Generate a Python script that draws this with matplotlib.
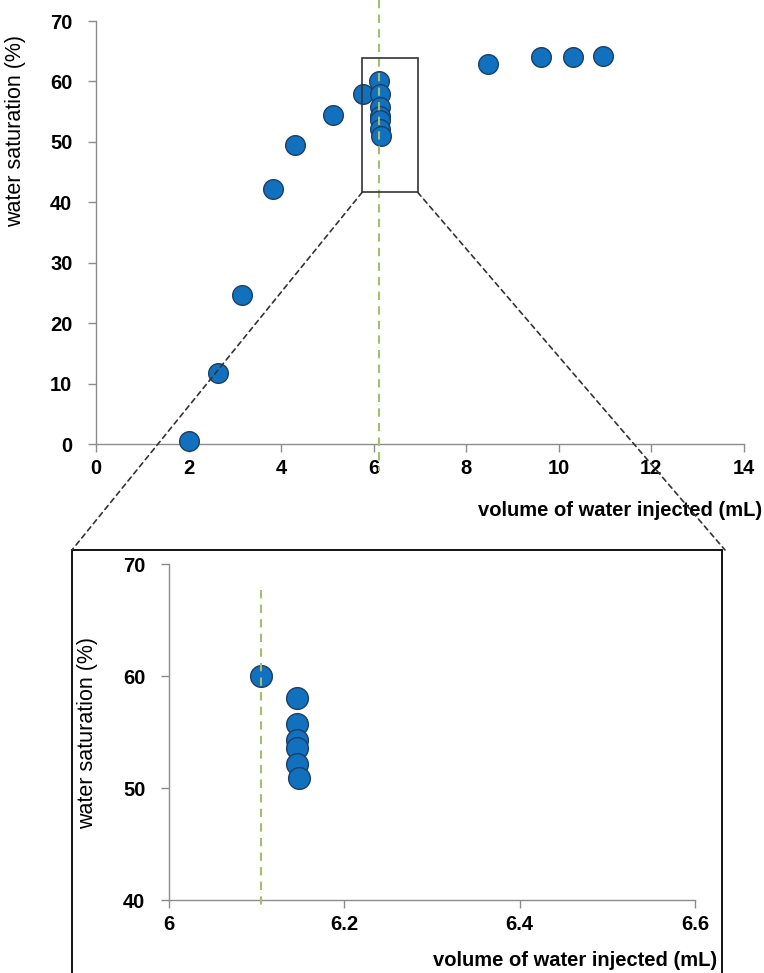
import numpy as np
import matplotlib
matplotlib.use("Agg")
import matplotlib.pyplot as plt
from matplotlib.patches import Rectangle, ConnectionPatch

plt.rcParams["font.family"] = ["Liberation Sans", "DejaVu Sans"]

''' Data '''
vol_early = [2.0, 2.63, 3.15, 3.82, 4.30, 5.12, 5.77]
sat_early = [0.5, 11.8, 24.7, 42.2, 49.4, 54.5, 57.9]

vol_cluster = [6.105, 6.146, 6.146, 6.146, 6.146, 6.146, 6.148]
sat_cluster = [60.0, 58.0, 55.7, 54.3, 53.6, 52.1, 50.9]

vol_late = [8.47, 9.62, 10.31, 10.96]
sat_late = [62.9, 64.0, 64.0, 64.2]

breakthrough = 6.105

main_xticks = [0, 2, 4, 6, 8, 10, 12, 14]
main_yticks = [0, 10, 20, 30, 40, 50, 60, 70]
zoom_xticks = [6, 6.2, 6.4, 6.6]
zoom_yticks = [40, 50, 60, 70]

zoom_box = (5.75, 41.65, 6.95, 63.9)  # hand-drawn box around the cluster

x_label = "volume of water injected (mL)"
y_label = "water saturation (%)"

''' Style '''
W, H = 764, 973
point_color = "#1271BE"
edge_color = "#1B3F66"
axis_color = "#8C8C8C"
green = "#A3BE6E"

fig = plt.figure(figsize=(W / 100, H / 100), dpi=100)


def px_axes(left, right, top, bottom):
    return fig.add_axes([left / W, 1 - bottom / H, (right - left) / W, (bottom - top) / H])


def style_axes(ax, xticks, yticks, labelsize):
    ax.spines["top"].set_visible(False)
    ax.spines["right"].set_visible(False)
    for s in ("left", "bottom"):
        ax.spines[s].set_color(axis_color)
        ax.spines[s].set_linewidth(1.0)
    ax.set_xticks(xticks)
    ax.set_yticks(yticks)
    ax.set_xticklabels([f"{t:g}" for t in xticks], fontweight="bold", fontsize=labelsize)
    ax.set_yticklabels([f"{t:g}" for t in yticks], fontweight="bold", fontsize=labelsize)
    ax.tick_params(axis="both", direction="out", length=6, width=1.0, color=axis_color)
    ax.tick_params(axis="x", pad=5)
    ax.tick_params(axis="y", pad=11)
    ax.patch.set_alpha(0)


''' Main plot '''
ax = px_axes(96, 744, 21, 444)
all_vol = vol_early + vol_cluster + vol_late
all_sat = sat_early + sat_cluster + sat_late
ax.scatter(all_vol, all_sat, s=200, color=point_color, edgecolor=edge_color, linewidth=1.0, zorder=3, clip_on=False)
ax.plot([breakthrough + 0.005, breakthrough + 0.005], [73.5, -4.5], ls=(0, (4, 3)), color=green, lw=1.5,
        zorder=4, clip_on=False)
ax.set_xlim(0, 14)
ax.set_ylim(0, 70)
style_axes(ax, main_xticks, main_yticks, 14.5)
ax.set_ylabel(y_label, fontsize=15.5)
ax.yaxis.set_label_coords(-0.108, 0.74)

bx0, by0, bx1, by1 = zoom_box
ax.add_patch(Rectangle((bx0, by0), bx1 - bx0, by1 - by0, fill=False, ec="#333333", lw=1.2, zorder=5,
                       clip_on=False))

fig.text(762 / W, 1 - 511 / H, x_label, ha="right", va="center", fontsize=14.5, fontweight="bold")

''' Inset frame and connectors '''
frame_l, frame_r, frame_t = 72, 722, 550
fig.add_artist(Rectangle((frame_l / W, -0.02), (frame_r - frame_l) / W, 1 - frame_t / H + 0.02,
                         transform=fig.transFigure, fill=False, ec="black", lw=1.3))
for bx, fx in ((bx0, frame_l), (bx1, frame_r + 3)):
    con = ConnectionPatch(xyA=(bx, by0), coordsA=ax.transData, xyB=(fx / W, 1 - frame_t / H),
                          coordsB=fig.transFigure, ls=(0, (3, 2.5)), color="#333333", lw=1.2, zorder=6)
    fig.add_artist(con)

''' Zoomed plot '''
axz = px_axes(169, 695, 564, 900)
axz.scatter(vol_cluster, sat_cluster, s=245, color=point_color, edgecolor=edge_color, linewidth=1.0, zorder=3)
axz.plot([breakthrough, breakthrough], [67.7, 39.4], ls=(0, (4, 3)), color=green, lw=1.5, zorder=4,
         clip_on=False)
axz.set_xlim(6, 6.6)
axz.set_ylim(40, 70)
style_axes(axz, zoom_xticks, zoom_yticks, 14.5)
axz.set_ylabel(y_label, fontsize=15.5)
axz.yaxis.set_label_coords((98 - 169) / 526, (900 - 733) / 336)

fig.text(717 / W, 1 - 960 / H, x_label, ha="right", va="center", fontsize=14.5, fontweight="bold")

fig.savefig("out.png", dpi=100)
